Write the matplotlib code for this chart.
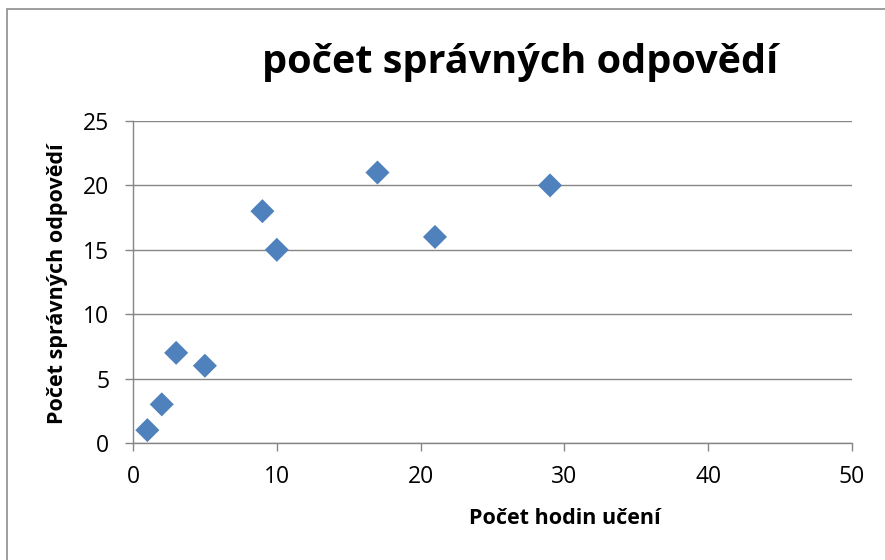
import matplotlib
matplotlib.use("Agg")
import matplotlib.pyplot as plt
from matplotlib.patches import Rectangle

hours = [1, 2, 3, 5, 9, 10, 17, 21, 29]
correct = [1, 3, 7, 6, 18, 15, 21, 16, 20]
x_ticks = [0, 10, 20, 30, 40, 50]
y_ticks = [0, 5, 10, 15, 20, 25]
title = "počet správných odpovědí"
xlabel = "Počet hodin učení"
ylabel = "Počet správných odpovědí"

plt.rcParams['font.family'] = ['Open Sans', 'DejaVu Sans']

fig = plt.figure(figsize=(8.85, 5.6), dpi=100)
fig.patches.append(Rectangle((7/885, -0.1), 1.2, 1 - 9/560 + 0.1, transform=fig.transFigure,
                             fill=False, edgecolor='#8c8c8c', linewidth=1.2))
ax = fig.add_axes([133/885, 1 - 443/560, (852 - 133)/885, (443 - 121)/560])
ax.scatter(hours, correct, marker='D', s=150, color='#4F81BD', edgecolors='none', zorder=3)
ax.set_xlim(0, 50)
ax.set_ylim(0, 25)
ax.set_xticks(x_ticks)
ax.set_yticks(y_ticks)
ax.grid(axis='y', color='#868686', linewidth=1)
ax.set_axisbelow(True)
for s in ['top', 'right']:
    ax.spines[s].set_visible(False)
for s in ['left', 'bottom']:
    ax.spines[s].set_color('#868686')
    ax.spines[s].set_linewidth(1)
ax.tick_params(axis='both', colors='#868686', labelcolor='black', labelsize=16.5, length=6, width=1)
ax.tick_params(axis='x', pad=10)
ax.tick_params(axis='y', pad=11)
ax.set_xlabel(xlabel, fontsize=15.5, fontweight='bold', va='center')
ax.set_ylabel(ylabel, fontsize=15.5, fontweight='bold', va='center')
ax.xaxis.set_label_coords((565 - 133) / 719, (443 - 518) / 322)
ax.yaxis.set_label_coords((58 - 133) / 719, (443 - 284) / 322)
fig.text(520/885, 1 - 62/560, title, fontsize=28.5, fontweight='bold', ha='center', va='center')
fig.savefig('out.png', dpi=100)
